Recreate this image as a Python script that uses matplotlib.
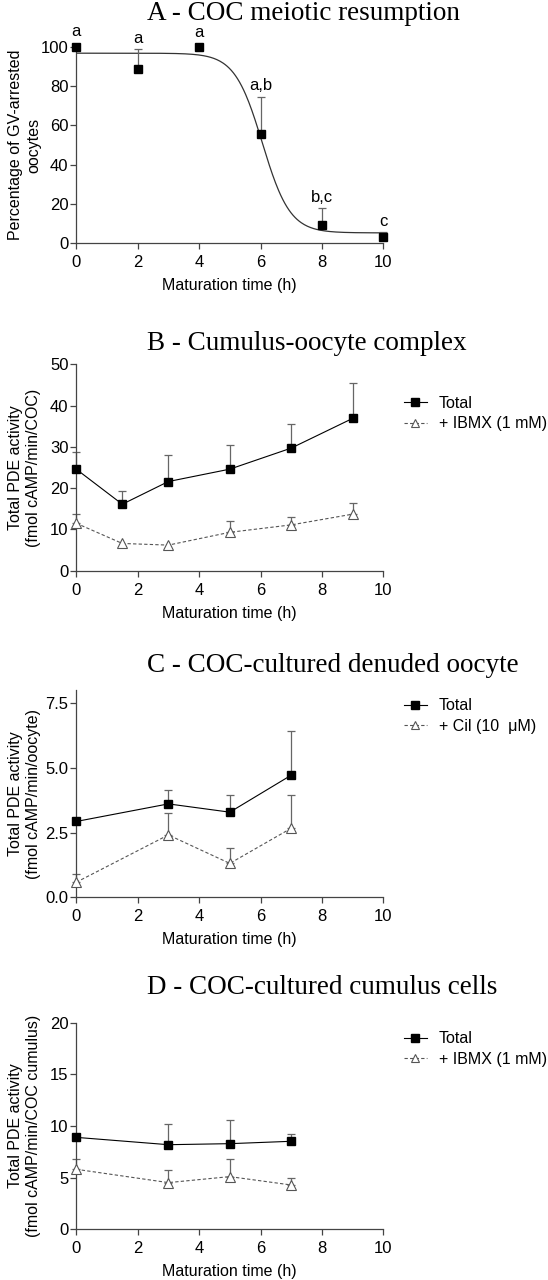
# -*- coding: utf-8 -*-

import numpy as np
import matplotlib
matplotlib.use('Agg')
import matplotlib.pyplot as plt

plt.rcParams['font.family'] = ['Liberation Sans', 'DejaVu Sans']
plt.rcParams['font.size'] = 11.5

# Data

# A - meiotic resumption
a_time = [0, 2, 4, 6, 8, 10]
a_pct = [100, 88.6, 99.8, 55.6, 9.3, 3.2]
a_err = [0, 10.0, 0, 19.0, 8.5, 2.4]
a_letters = ['a', 'a', 'a', 'a,b', 'b,c', 'c']
# Boltzmann sigmoid fit: top, bottom, t50, slope
a_fit = [96.7, 5.3, 6.06, 0.45]

# B - cumulus-oocyte complex
b_time = [0, 1.5, 3, 5, 7, 9]
b_total = [24.6, 16.1, 21.6, 24.6, 29.7, 36.9]
b_total_err = [4.2, 3.1, 6.5, 5.9, 5.9, 8.5]
b_ibmx = [11.5, 6.6, 6.2, 9.3, 11.1, 13.7]
b_ibmx_err = [2.2, 0, 0, 2.7, 2.0, 2.8]

# C - denuded oocyte
c_time = [0, 3, 5, 7]
c_total = [2.93, 3.61, 3.29, 4.72]
c_total_err = [0, 0.55, 0.68, 1.70]
c_cil = [0.58, 2.41, 1.31, 2.67]
c_cil_err = [0.31, 0.84, 0.58, 1.30]

# D - cumulus cells
d_time = [0, 3, 5, 7]
d_total = [8.9, 8.19, 8.29, 8.52]
d_total_err = [0, 1.97, 2.29, 0.67]
d_ibmx = [5.81, 4.52, 5.1, 4.29]
d_ibmx_err = [0.96, 1.22, 1.71, 0.65]

W, H = 548, 1280
fig = plt.figure(figsize=(W / 100, H / 100), dpi=100)

AX_L, AX_R = 76.2, 383.4
GRAY = '#444444'


def make_axes(top_px, bottom_px):
    return fig.add_axes([AX_L / W, 1 - bottom_px / H,
                         (AX_R - AX_L) / W, (bottom_px - top_px) / H])


def style(ax, ylim, yticks, ylabel, title, title_y):
    ax.set_xlim(0, 10)
    ax.set_ylim(*ylim)
    ax.set_xticks(range(0, 11, 2))
    ax.set_yticks(yticks)
    for s in ['top', 'right']:
        ax.spines[s].set_visible(False)
    for s in ['left', 'bottom']:
        ax.spines[s].set_color(GRAY)
        ax.spines[s].set_linewidth(0.9)
    ax.tick_params(direction='out', length=4, width=0.9, color=GRAY,
                   labelsize=12)
    ax.tick_params(axis='y', pad=1.5)
    ax.tick_params(axis='x', pad=4.5)
    ax.set_xlabel('Maturation time (h)', fontsize=11.5, labelpad=6)
    ax.set_ylabel(ylabel, fontsize=11.5, va='center', ha='center',
                  linespacing=1.25)
    ax.yaxis.set_label_coords((24.5 - AX_L) / (AX_R - AX_L), 0.5)
    fig.text(146.8 / W, 1 - (title_y + 2) / H, title, ha='left', va='center',
             fontsize=19.5, family='Liberation Serif')


def upper_err(ax, x, y, err):
    x = np.array(x, float)
    y = np.array(y, float)
    err = np.array(err, float)
    m = err > 0
    ax.errorbar(x[m], y[m], yerr=[np.zeros(m.sum()), err[m]], fmt='none',
                ecolor='#666666', elinewidth=0.9, capsize=3.2, capthick=0.9,
                zorder=2, clip_on=False)


def two_series(ax, x, y1, e1, y2, e2, lab2):
    upper_err(ax, x, y1, e1)
    upper_err(ax, x, y2, e2)
    l1, = ax.plot(x, y1, '-', color='black', lw=0.8, marker='s', ms=6,
                  mfc='black', mec='black', zorder=3, clip_on=False,
                  label='Total')
    l2, = ax.plot(x, y2, '--', color='#555555', lw=0.8, dashes=(3, 2),
                  marker='^', ms=6.5, mfc='white', mec='#555555', mew=0.8,
                  zorder=3, clip_on=False, label=lab2)
    return l1, l2


def legend(ax, row_y):
    ax.legend(loc='upper left', frameon=False, fontsize=11.5,
              bbox_to_anchor=(403.7 / W, 1 - (row_y - 6) / H),
              bbox_transform=fig.transFigure, borderpad=0,
              borderaxespad=0, handlelength=1.45, handletextpad=0.75,
              labelspacing=0.35, markerscale=0.85)


# A
ax = make_axes(46.7, 243.3)
style(ax, (0, 100), range(0, 101, 20),
      'Percentage of GV-arrested\noocytes', 'A - COC meiotic resumption', 11.7)
tt = np.linspace(0, 10, 300)
top, bot, t50, slope = a_fit
ax.plot(tt, bot + (top - bot) / (1 + np.exp((tt - t50) / slope)),
        color='#333333', lw=0.9, zorder=2)
upper_err(ax, a_time, a_pct, a_err)
ax.plot(a_time, a_pct, 's', color='black', ms=6, zorder=3, clip_on=False)
for xi, yi, ei, lab in zip(a_time, a_pct, a_err, a_letters):
    ytop = yi + ei if ei > 0 else yi + 2
    ax.annotate(lab, (xi, ytop), xytext=(0, 2.5), textcoords='offset points',
                ha='center', va='bottom', fontsize=12, annotation_clip=False)

# B
ax = make_axes(364.3, 570.7)
style(ax, (0, 50), range(0, 51, 10),
      'Total PDE activity\n(fmol cAMP/min/COC)', 'B - Cumulus-oocyte complex', 341.7)
two_series(ax, b_time, b_total, b_total_err, b_ibmx, b_ibmx_err, '+ IBMX (1 mM)')
legend(ax, 401.7)

# C
ax = make_axes(690.3, 897.3)
style(ax, (0, 8), [0, 2.5, 5, 7.5],
      'Total PDE activity\n(fmol cAMP/min/oocyte)', 'C - COC-cultured denuded oocyte', 663)
ax.set_yticklabels(['0.0', '2.5', '5.0', '7.5'])
two_series(ax, c_time, c_total, c_total_err, c_cil, c_cil_err, '+ Cil (10  μM)')
legend(ax, 704.3)

# D
ax = make_axes(1022.7, 1229.3)
style(ax, (0, 20), range(0, 21, 5),
      'Total PDE activity\n(fmol cAMP/min/COC cumulus)', 'D - COC-cultured cumulus cells', 985)
two_series(ax, d_time, d_total, d_total_err, d_ibmx, d_ibmx_err, '+ IBMX (1 mM)')
legend(ax, 1037.3)

plt.savefig('out.png', dpi=100)
